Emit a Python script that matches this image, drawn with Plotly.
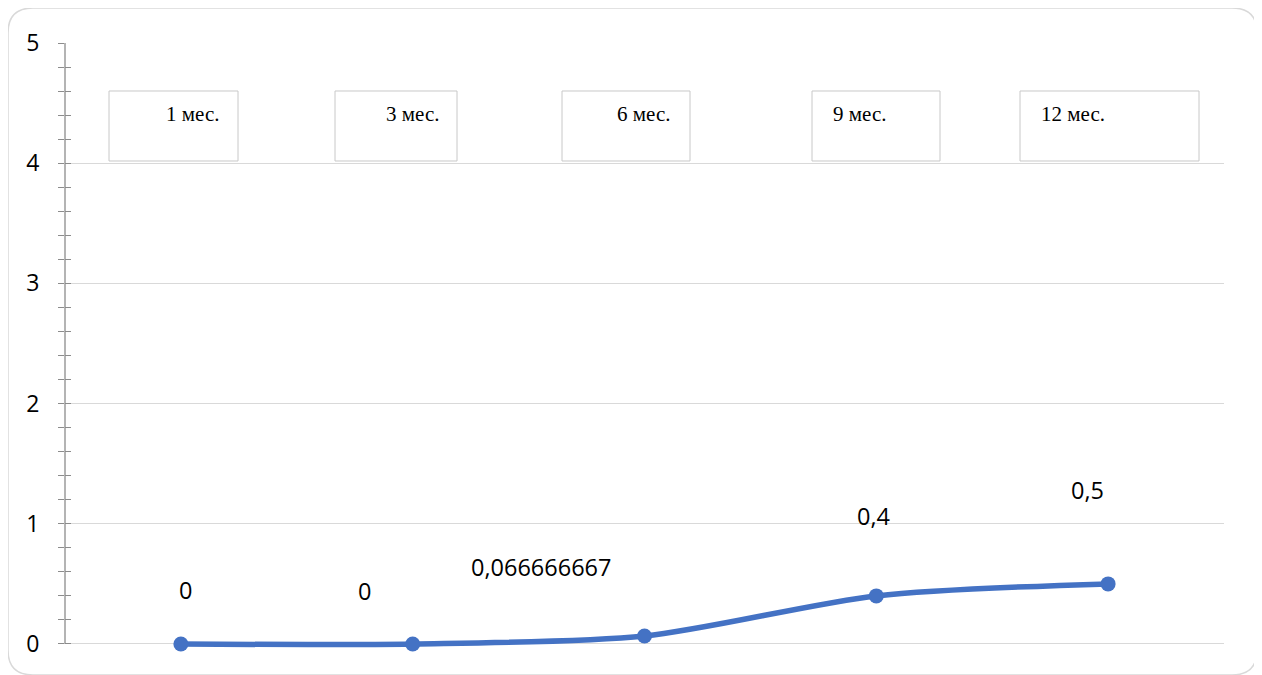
import plotly.graph_objects as go

# данные
periods = ["1 мес.", "3 мес.", "6 мес.", "9 мес.", "12 мес."]
values = [0, 0, 0.066666667, 0.4, 0.5]
label_texts = ["0", "0", "0,066666667", "0,4", "0,5"]

# оформление (координаты в пикселях снимка; страница сдвигает график на 8 px)
OFF = 8
W, H = 1250, 668
PL, PR, PT, P0 = 65, 1224, 43, 644          # лево, право, верх (y=5), низ (y=0)
YMIN, YMAX = -0.05, 5                       # чуть ниже нуля, чтобы линия не обрезалась
PB = P0 + (P0 - PT) / YMAX * (-YMIN)        # фактический низ области построения
BLUE = "#4472C4"
GRID = "#d9d9d9"
AXIS = "#8c8c8c"
# смещения подписей данных (px), как они сдвинуты вручную
label_dx = [5, -48, -104, -3, -21]
label_dy = [54, 53, 69, 80, 94]
# рамки текстовых полей (левый, правый край), верх/низ общие
boxes = [(109, 238), (335, 457), (562, 690), (812, 940), (1020, 1199)]
box_text_x = [192, 412, 643, 859, 1073]
BOX_TOP, BOX_BOTTOM, BOX_TEXT_Y = 91, 161, 114


def px(x):
    return (x - PL) / (PR - PL)


def py(y):
    return (PB - y) / (PB - PT)


fig = go.Figure()
fig.add_trace(go.Scatter(
    x=periods, y=values, mode="lines+markers",
    line=dict(color=BLUE, width=5.5, shape="spline", smoothing=0.8),
    marker=dict(color=BLUE, size=15), cliponaxis=False, hoverinfo="skip",
))
# пустой след для второй оси (внутренние засечки)
fig.add_trace(go.Scatter(x=[periods[0]], y=[0], yaxis="y2", mode="markers",
                         marker=dict(opacity=0), hoverinfo="skip"))

annotations = []
for cat, v, t, dx, dy in zip(periods, values, label_texts, label_dx, label_dy):
    annotations.append(dict(x=cat, y=v, text=t, showarrow=False, xshift=dx, yshift=dy,
                            xanchor="center", yanchor="middle",
                            font=dict(family="Open Sans", size=23.5, color="#000000")))

shapes = []
for (x0, x1), cat, tx in zip(boxes, periods, box_text_x):
    shapes.append(dict(type="rect", xref="paper", yref="paper",
                       x0=px(x0), x1=px(x1), y0=py(BOX_BOTTOM), y1=py(BOX_TOP),
                       line=dict(color="#c8c8c8", width=1), fillcolor="white", layer="above"))
    annotations.append(dict(x=px(tx), y=py(BOX_TEXT_Y), xref="paper", yref="paper",
                            text=cat, showarrow=False, xanchor="center", yanchor="middle",
                            font=dict(family="Liberation Serif", size=21, color="#000000")))

# вертикальная ось от 0 до 5
shapes.append(dict(type="line", xref="paper", yref="y", x0=0, x1=0, y0=0, y1=YMAX,
                   line=dict(color=AXIS, width=1.3), layer="above"))

# скруглённая рамка диаграммы (нижний край уходит за край окна)
L, R, T, B, r = 8, 1257, 8, 675, 25
path = (f"M {px(L + r)} {py(T)} L {px(R - r)} {py(T)} Q {px(R)} {py(T)} {px(R)} {py(T + r)} "
        f"L {px(R)} {py(B - r)} Q {px(R)} {py(B)} {px(R - r)} {py(B)} "
        f"L {px(L + r)} {py(B)} Q {px(L)} {py(B)} {px(L)} {py(B - r)} "
        f"L {px(L)} {py(T + r)} Q {px(L)} {py(T)} {px(L + r)} {py(T)} Z")
shapes.append(dict(type="path", xref="paper", yref="paper", path=path,
                   line=dict(color="#d9d9d9", width=1.5), layer="below"))

tick_common = dict(ticklen=6, tickcolor=AXIS, tickwidth=1.3)
fig.update_layout(
    width=W, height=H,
    margin=dict(l=PL - OFF, r=W - (PR - OFF), t=PT - OFF, b=H - (PB - OFF), pad=0),
    paper_bgcolor="white", plot_bgcolor="white",
    showlegend=False,
    xaxis=dict(range=[-0.5, 4.5], showgrid=False, showline=False, zeroline=False,
               showticklabels=False, ticks=""),
    yaxis=dict(range=[YMIN, YMAX], tick0=0, dtick=1, showgrid=True, gridcolor=GRID, gridwidth=1.3,
               zeroline=False, showline=False,
               ticks="outside", **tick_common,
               minor=dict(tick0=0, dtick=0.2, ticks="outside", showgrid=False, **tick_common),
               ticklabelstandoff=14,
               tickfont=dict(family="Open Sans", size=23, color="#000000")),
    yaxis2=dict(range=[YMIN, YMAX], tick0=0, dtick=1, overlaying="y", side="left", anchor="x",
                showgrid=False, zeroline=False, showline=False, showticklabels=False,
                ticks="inside", **tick_common,
                minor=dict(tick0=0, dtick=0.2, ticks="inside", **tick_common)),
    shapes=shapes, annotations=annotations,
)

fig.write_html("out.html")
